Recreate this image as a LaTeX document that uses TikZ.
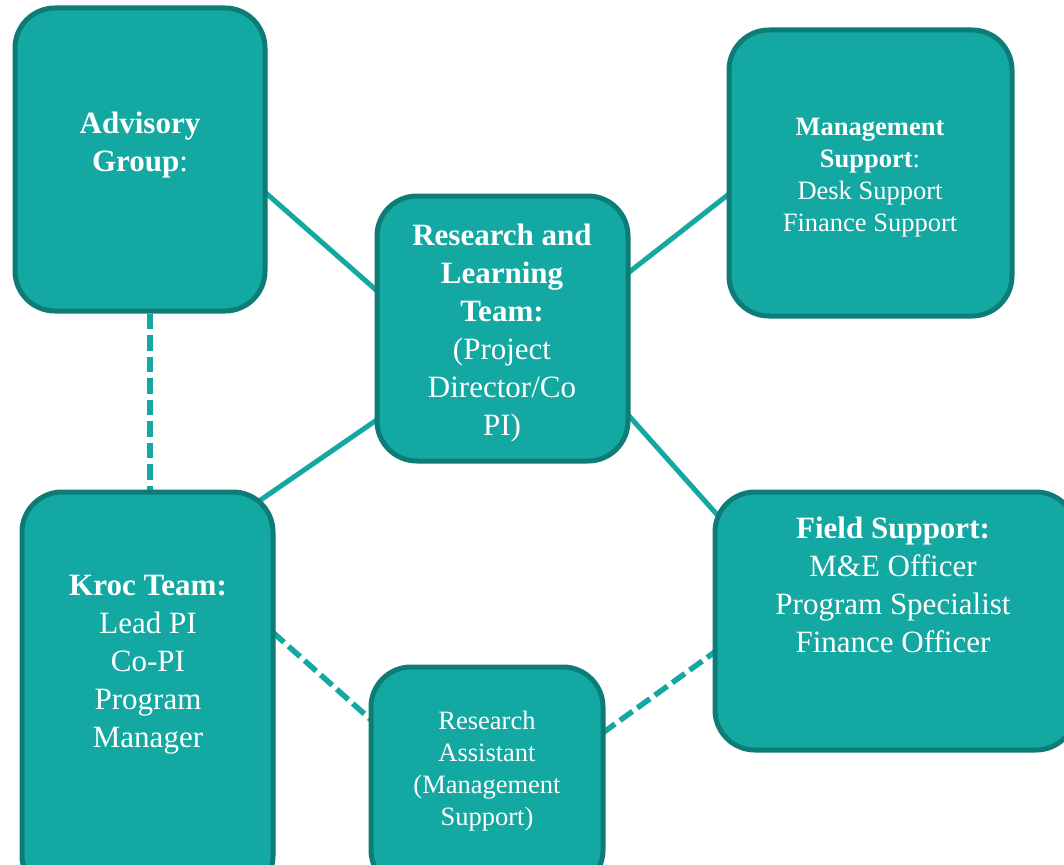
\documentclass[tikz,border=0pt]{standalone}
\usepackage{fontspec}
\setmainfont{Liberation Serif}
\usetikzlibrary{calc,backgrounds}
\definecolor{tealfill}{RGB}{20,168,163}
\definecolor{tealedge}{RGB}{14,124,118}
\tikzset{
  teambox/.style={rectangle, draw=tealedge, fill=tealfill, line width=5pt,
    rounded corners=40pt, inner sep=0pt},
  bigtext/.style={text=white, align=center, inner sep=0pt,
    font=\fontsize{31}{38}\selectfont},
  smalltext/.style={text=white, align=center, inner sep=0pt,
    font=\fontsize{26.5}{32}\selectfont},
  link/.style={draw=tealfill, line width=5pt},
  dashlink/.style={draw=tealfill, line width=5.5pt, dash pattern=on 15.5pt off 6pt}
}
\begin{document}
\begin{tikzpicture}[x=1pt,y=-1pt]
\useasboundingbox (0,0) rectangle (1064,864);
\clip (0,0) rectangle (1064,864);

% boxes
\node[teambox, minimum width=250pt, minimum height=303pt] (adv)   at (140,159.5) {};
\node[teambox, minimum width=251pt, minimum height=265pt] (rl)    at (502.5,328.5) {};
\node[teambox, minimum width=283pt, minimum height=286pt] (mgmt)  at (870.5,173) {};
\node[teambox, minimum width=251pt, minimum height=404pt] (kroc)  at (147.5,694) {};
\node[teambox, minimum width=361pt, minimum height=258pt] (field) at (895.5,621) {};
\node[teambox, minimum width=232pt, minimum height=223pt] (ra)    at (487,778.5) {};

% box texts
\node[bigtext] (advtext) at (140,145) {\textbf{Advisory}\\\textbf{Group}:};
\node[bigtext] (rltext) at (502,333) {\textbf{Research and}\\\textbf{Learning}\\\textbf{Team:}\\ (Project\\Director/Co\\PI)};
\node[smalltext] (mgmttext) at (870,178) {\textbf{Management}\\\textbf{Support}:\\Desk Support\\Finance Support};
\node[bigtext] (kroctext) at (148,665) {\textbf{Kroc Team:}\\Lead PI\\Co-PI\\Program\\Manager};
\node[bigtext] (fieldtext) at (893,585) {\textbf{Field Support:}\\M\&E Officer\\Program Specialist\\Finance Officer};
\node[smalltext] (ratext) at (487,771) {Research\\Assistant\\(Management\\Support)};

% connectors, kept behind the boxes
\begin{scope}[on background layer]
  \fill[white] (0,0) rectangle (1064,864);
  \draw[link] ($(adv.east)+(-5,30.5)$) -- ($(rl.west)+(5,-35.5)$);
  \draw[link] ($(rl.east)+(-5,-53.5)$) -- ($(mgmt.west)+(5,19)$);
  \draw[link] ($(rl.west)+(5,89.5)$) -- ($(kroc.north east)+(-20,14)$);
  \draw[link] ($(rl.east)+(-5,83.5)$) -- ($(field.north west)+(8,29)$);
  \draw[dashlink] ($(adv.south)+(10,0)$) -- ($(kroc.north)+(2.5,0)$);
  \draw[dashlink] ($(kroc.east)+(-3,-62)$) -- ($(ra.west)+(5,-56.5)$);
  \draw[dashlink] ($(ra.east)+(-3,-45.5)$) -- ($(field.west)+(5,29)$);
\end{scope}
\end{tikzpicture}
\end{document}
